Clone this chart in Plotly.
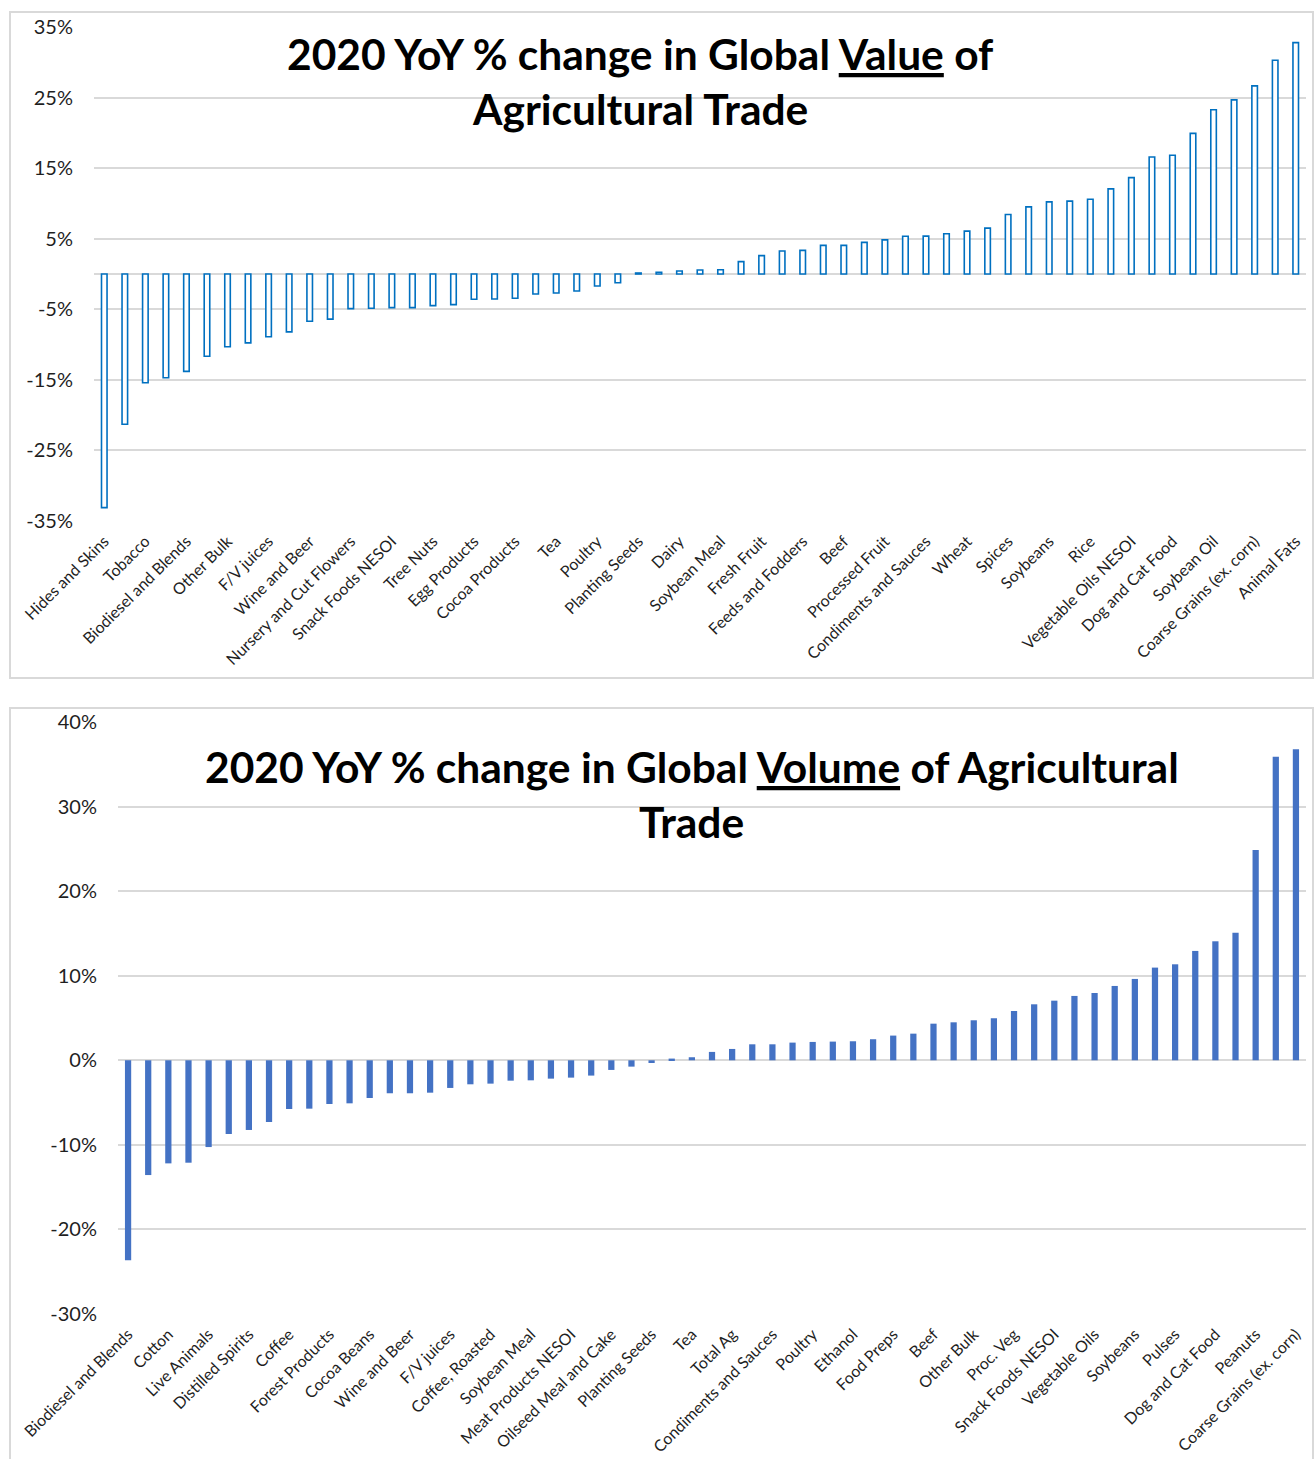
import plotly.graph_objects as go

# ---------------- data ----------------
value_labels = [
    "Hides and Skins", "Tobacco", "Biodiesel and Blends", "Other Bulk", "F/V juices",
    "Wine and Beer", "Nursery and Cut Flowers", "Snack Foods NESOI", "Tree Nuts",
    "Egg Products", "Cocoa Products", "Tea", "Poultry", "Planting Seeds", "Dairy",
    "Soybean Meal", "Fresh Fruit", "Feeds and Fodders", "Beef", "Processed Fruit",
    "Condiments and Sauces", "Wheat", "Spices", "Soybeans", "Rice",
    "Vegetable Oils NESOI", "Dog and Cat Food", "Soybean Oil",
    "Coarse Grains (ex. corn)", "Animal Fats",
]
value_changes = [
    -33.1, -21.3, -15.4, -14.7, -13.8, -11.65, -10.3, -9.76, -8.9, -8.2,
    -6.7, -6.4, -4.9, -4.86, -4.76, -4.76, -4.48, -4.34, -3.58, -3.54,
    -3.44, -2.83, -2.69, -2.4, -1.7, -1.23, 0.14, 0.24, 0.42, 0.57,
    0.6, 1.75, 2.6, 3.25, 3.35, 4.06, 4.06, 4.48, 4.83, 5.35,
    5.37, 5.7, 6.08, 6.5, 8.43, 9.51, 10.22, 10.32, 10.6, 12.06,
    13.66, 16.58, 16.82, 19.92, 23.27, 24.68, 26.66, 30.29, 32.78,
]
volume_labels = [
    "Biodiesel and Blends", "Cotton", "Live Animals", "Distilled Spirits", "Coffee",
    "Forest Products", "Cocoa Beans", "Wine and Beer", "F/V juices", "Coffee, Roasted",
    "Soybean Meal", "Meat Products NESOI", "Oilseed Meal and Cake", "Planting Seeds",
    "Tea", "Total Ag", "Condiments and Sauces", "Poultry", "Ethanol", "Food Preps",
    "Beef", "Other Bulk", "Proc. Veg", "Snack Foods NESOI", "Vegetable Oils",
    "Soybeans", "Pulses", "Dog and Cat Food", "Peanuts", "Coarse Grains (ex. corn)",
]
volume_changes = [
    -23.63, -13.57, -12.19, -12.11, -10.26, -8.72, -8.24, -7.3, -5.76, -5.72,
    -5.17, -5.09, -4.46, -3.9, -3.9, -3.83, -3.27, -2.84, -2.76, -2.41,
    -2.37, -2.17, -2.05, -1.81, -1.14, -0.75, -0.32, 0.2, 0.36, 0.99,
    1.34, 1.89, 1.89, 2.09, 2.17, 2.21, 2.25, 2.49, 2.92, 3.15,
    4.33, 4.49, 4.73, 4.97, 5.83, 6.62, 7.05, 7.61, 7.96, 8.79,
    9.62, 10.96, 11.35, 12.93, 14.07, 15.09, 24.87, 35.9, 36.77,
]
value_ticks = [-35, -25, -15, -5, 5, 15, 25, 35]
value_tick_text = ["-35%", "-25%", "-15%", "-5%", "5%", "15%", "25%", "35%"]
volume_ticks = [-30, -20, -10, 0, 10, 20, 30, 40]
volume_tick_text = ["-30%", "-20%", "-10%", "0%", "10%", "20%", "30%", "40%"]

# ---------------- layout helpers ----------------
W, H = 1314, 1459
def fx(px):
    return px / W
def fy(py):
    return 1 - py / H

FONT = "Lato, 'Open Sans', sans-serif"
GRID = "#D9D9D9"
TXT = "#1F1F1F"

fig = go.Figure()

fig.add_trace(go.Bar(
    x=list(range(len(value_changes))), y=value_changes,
    xaxis="x", yaxis="y", width=0.27,
    marker=dict(color="white", line=dict(color="#0070C0", width=1.6)),
    showlegend=False,
))
fig.add_trace(go.Bar(
    x=list(range(len(volume_changes))), y=volume_changes,
    xaxis="x2", yaxis="y2", width=0.31,
    marker=dict(color="#4472C4", line=dict(width=0)),
    showlegend=False,
))

common_x = dict(
    tickangle=-45, showgrid=False, showline=False, zeroline=False, ticks="",
    tickfont=dict(family=FONT, size=16, color=TXT), ticklabelstandoff=7,
    automargin=False,
)
common_y = dict(
    showgrid=True, gridcolor=GRID, gridwidth=1.5, zeroline=True,
    zerolinecolor=GRID, zerolinewidth=1.5, showline=False, ticks="",
    tickfont=dict(family=FONT, size=20, color=TXT),
    ticklabelstandoff=20, automargin=False,
)

fig.update_layout(
    width=W, height=H, margin=dict(l=0, r=0, t=0, b=0, autoexpand=False),
    paper_bgcolor="white", plot_bgcolor="white",
    xaxis=dict(domain=[fx(94), fx(1306)], range=[-0.5, len(value_changes) - 0.5],
               tickvals=list(range(0, len(value_changes), 2)), ticktext=value_labels,
               anchor="y", **common_x),
    yaxis=dict(domain=[fy(521), fy(27)], range=[-35, 35], tickvals=value_ticks,
               ticktext=value_tick_text, anchor="x", **common_y),
    xaxis2=dict(domain=[fx(118), fx(1306)], range=[-0.5, len(volume_changes) - 0.5],
                tickvals=list(range(0, len(volume_changes), 2)), ticktext=volume_labels,
                anchor="y2", **common_x),
    yaxis2=dict(domain=[fy(1314), fy(722)], range=[-30, 40], tickvals=volume_ticks,
                ticktext=volume_tick_text, anchor="x2", **common_y),
    shapes=[
        dict(type="rect", xref="paper", yref="paper", x0=fx(10), x1=fx(1313),
             y0=fy(678), y1=fy(12), line=dict(color=GRID, width=2), layer="below"),
        dict(type="rect", xref="paper", yref="paper", x0=fx(10), x1=fx(1313),
             y0=fy(1475), y1=fy(708), line=dict(color=GRID, width=2), layer="below"),
    ],
)

title_font = dict(family=FONT, size=42.5, color="black")
titles = [
    ("<b>2020 YoY % change in Global <u>Value</u> of</b>", 640.5, 54),
    ("<b>Agricultural Trade</b>", 640, 109),
    ("<b>2020 YoY % change in Global <u>Volume</u> of Agricultural</b>", 691.5, 766),
    ("<b>Trade</b>", 691, 821),
]
for text, cx, cy in titles:
    fig.add_annotation(text=text, x=fx(cx), y=fy(cy), xref="paper", yref="paper",
                       xanchor="center", yanchor="middle", showarrow=False,
                       font=title_font)

fig.write_html("out.html")
